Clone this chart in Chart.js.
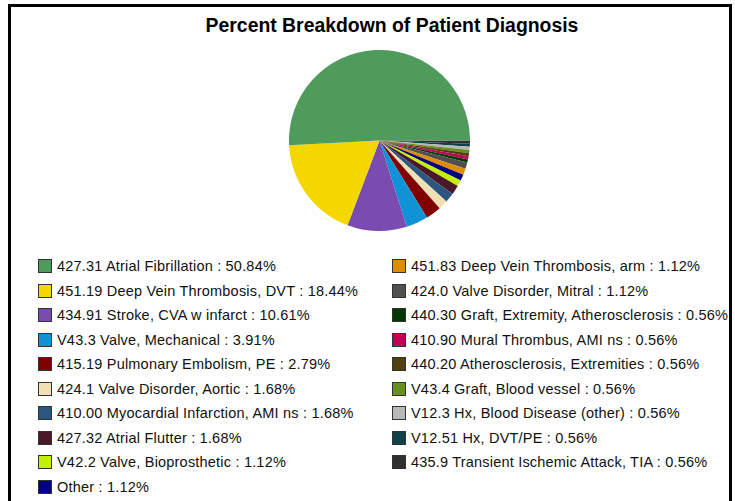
<!DOCTYPE html>
<html lang="en">
<head>
    <meta charset="UTF-8">
    <title>Percent Breakdown of Patient Diagnosis</title>
    <script src="https://cdn.jsdelivr.net/npm/chart.js"></script>
    <style>
        html, body {
            margin: 0;
            padding: 0;
            width: 735px;
            height: 501px;
            overflow: hidden;
            background: #fff;
            font-family: Arial, "Liberation Sans", sans-serif;
        }
        #frame {
            position: absolute;
            left: 8px;
            top: 4px;
            width: 718px;
            height: 600px;
            border: 3px solid #000;
            border-bottom: none;
        }
        #title {
            position: absolute;
            left: 0;
            width: 784px;
            top: 14px;
            text-align: center;
            font-weight: bold;
            font-size: 19.4px;
            color: #000;
        }
        #pieBox {
            position: absolute;
            left: 289px;
            top: 50px;
            width: 181px;
            height: 181px;
        }
        #legend {
            position: absolute;
            left: 38px;
            top: 254px;
            display: grid;
            grid-auto-flow: column;
            grid-template-rows: repeat(10, 24.5px);
            grid-template-columns: 354px auto;
            font-size: 14.5px;
            letter-spacing: 0.2px;
            color: #111;
        }
        .item {
            display: flex;
            align-items: center;
            white-space: nowrap;
        }
        .swatch {
            width: 12px;
            height: 12px;
            border: 1px solid #333;
            margin-right: 5px;
            flex: none;
        }
    </style>
</head>
<body>
    <div id="frame"></div>
    <div id="title">Percent Breakdown of Patient Diagnosis</div>
    <div id="pieBox"><canvas id="pieChart"></canvas></div>
    <div id="legend"></div>

    <script>
        // diagnosis categories, in legend order
        const diagnoses = [
            "427.31 Atrial Fibrillation",
            "451.19 Deep Vein Thrombosis, DVT",
            "434.91 Stroke, CVA w infarct",
            "V43.3 Valve, Mechanical",
            "415.19 Pulmonary Embolism, PE",
            "424.1 Valve Disorder, Aortic",
            "410.00 Myocardial Infarction, AMI ns",
            "427.32 Atrial Flutter",
            "V42.2 Valve, Bioprosthetic",
            "Other",
            "451.83 Deep Vein Thrombosis, arm",
            "424.0 Valve Disorder, Mitral",
            "440.30 Graft, Extremity, Atherosclerosis",
            "410.90 Mural Thrombus, AMI ns",
            "440.20 Atherosclerosis, Extremities",
            "V43.4 Graft, Blood vessel",
            "V12.3 Hx, Blood Disease (other)",
            "V12.51 Hx, DVT/PE",
            "435.9 Transient Ischemic Attack, TIA"
        ];

        const percents = [50.84, 18.44, 10.61, 3.91, 2.79, 1.68, 1.68, 1.68, 1.12, 1.12,
                          1.12, 1.12, 0.56, 0.56, 0.56, 0.56, 0.56, 0.56, 0.56];

        const sliceColors = [
            "#4e9b5c", "#f5d700", "#7a4cb0", "#1092d6", "#800000",
            "#f0e0b4", "#2c5680", "#4a1828", "#c4f000", "#000080",
            "#e08c00", "#505050", "#003800", "#c00058", "#504010",
            "#689020", "#b8b8b8", "#104048", "#303030"
        ];

        // the original pie runs counterclockwise from 3 o'clock,
        // Chart.js draws clockwise, so feed it reversed copies
        const revLabels = diagnoses.slice().reverse();
        const revValues = percents.slice().reverse();
        const revColors = sliceColors.slice().reverse();

        const ctx = document.getElementById("pieChart").getContext("2d");
        new Chart(ctx, {
            type: "pie",
            data: {
                labels: revLabels,
                datasets: [{
                    data: revValues,
                    backgroundColor: revColors,
                    borderWidth: 0
                }]
            },
            options: {
                responsive: true,
                maintainAspectRatio: false,
                animation: false,
                rotation: 90,
                layout: { padding: 0 },
                plugins: {
                    legend: { display: false },
                    title: { display: false },
                    tooltip: { enabled: false }
                }
            }
        });

        // legend in two columns, column-major like the original
        const legend = document.getElementById("legend");
        diagnoses.forEach((name, i) => {
            const item = document.createElement("div");
            item.className = "item";
            const sw = document.createElement("span");
            sw.className = "swatch";
            sw.style.background = sliceColors[i];
            const txt = document.createElement("span");
            txt.textContent = name + " : " + percents[i].toFixed(2) + "%";
            item.appendChild(sw);
            item.appendChild(txt);
            legend.appendChild(item);
        });
    </script>
</body>
</html>
